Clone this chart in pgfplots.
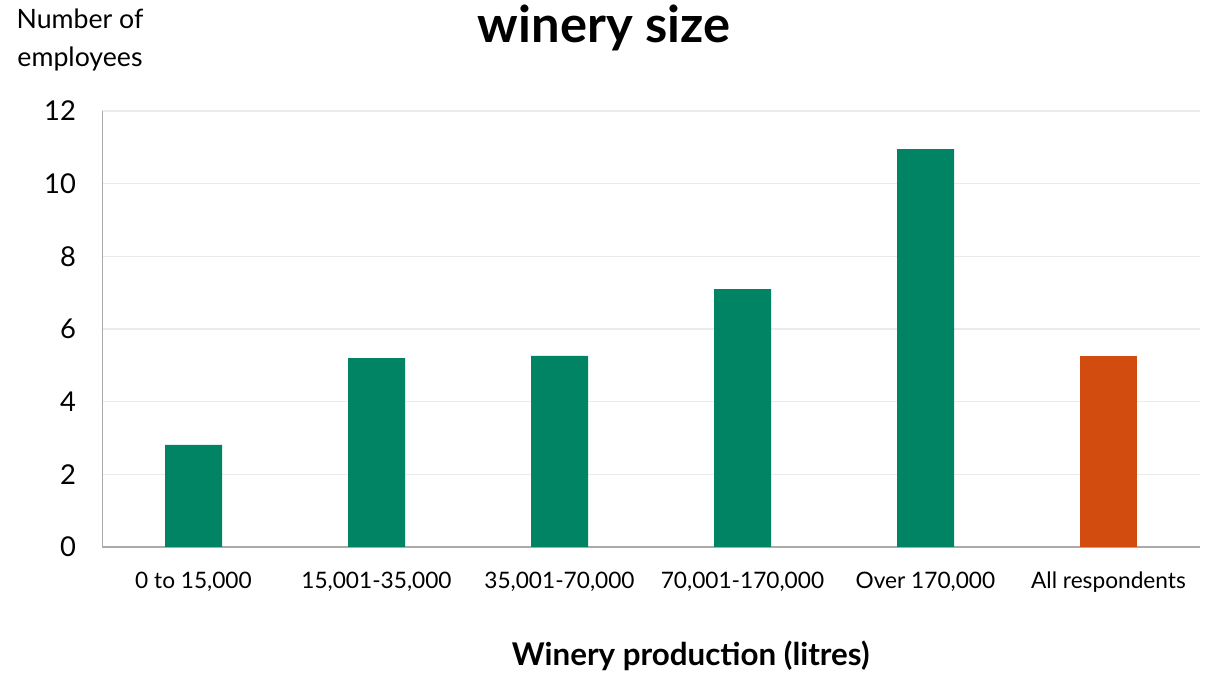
\documentclass[border=0pt]{standalone}
\usepackage{pgfplots}
\pgfplotsset{compat=1.18}
\usepackage{fontspec}
\setmainfont{Lato}
\definecolor{wgreen}{RGB}{0,132,100}
\definecolor{worange}{RGB}{210,75,15}
\definecolor{gridc}{RGB}{235,235,235}
\definecolor{axc}{RGB}{170,170,170}
\begin{document}
\begin{tikzpicture}
\useasboundingbox (0pt,0pt) rectangle (906pt,504.75pt);
\begin{axis}[
  at={(76.5pt,94.5pt)}, anchor=south west,
  scale only axis, width=823.5pt, height=327pt,
  ymin=0, ymax=12, ytick={0,2,...,12},
  xmin=-0.5, xmax=5.5,
  xtick={0,1,2,3,4,5},
  xticklabels={0 to 15{,}000,15{,}001-35{,}000,35{,}001-70{,}000,70{,}001-170{,}000,Over 170{,}000,All respondents},
  ymajorgrids, grid style={gridc, line width=0.8pt},
  axis x line*=bottom, axis y line*=left,
  x axis line style={axc, line width=1pt, -},
  y axis line style={axc, line width=0.6pt, -},
  major tick length=0pt,
  xticklabel style={font=\fontsize{17}{19}\selectfont, yshift=-15pt},
  yticklabel style={font=\fontsize{20.5}{23}\selectfont, xshift=-16pt},
  /pgf/number format/assume math mode=true,
  ybar, bar width=42.75pt, bar shift=0pt,
  clip=false,
]
\addplot[fill=wgreen, draw=none] coordinates {(0,2.81) (1,5.2) (2,5.26) (3,7.1) (4,10.95)};
\addplot[fill=worange, draw=none] coordinates {(5,5.27)};
\end{axis}
\node[font=\fontsize{38}{44}\selectfont\bfseries] at (453pt,484pt) {winery size};
\node[font=\fontsize{20}{28.5}\selectfont, align=center] at (60pt,475pt) {Number of\\employees};
\node[font=\fontsize{23.5}{27}\selectfont\bfseries] at (518pt,13pt) {Winery production (litres)};
\end{tikzpicture}
\end{document}
